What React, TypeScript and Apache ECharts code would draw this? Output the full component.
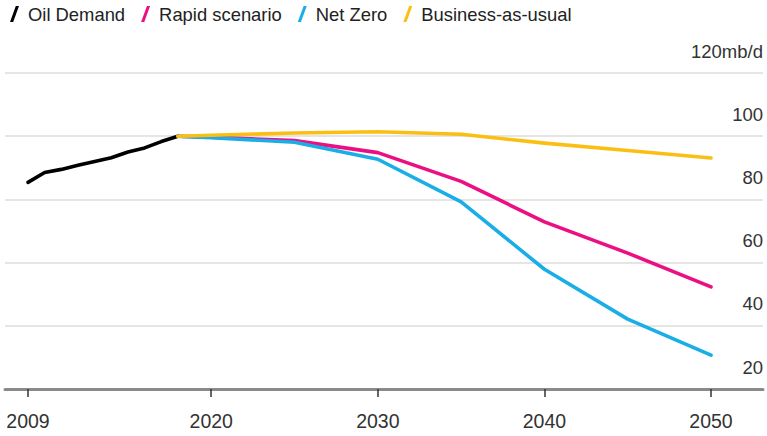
import React, { useEffect, useRef } from "react";
import * as echarts from "echarts";

const oilYears = [2009, 2010, 2011, 2012, 2013, 2014, 2015, 2016, 2017, 2018];
const oilDemand = [85.4, 88.5, 89.5, 90.8, 92.0, 93.2, 95.0, 96.3, 98.3, 100.0];

const projYears = [2018, 2020, 2025, 2030, 2035, 2040, 2045, 2050];
const rapid = [100.0, 99.7, 98.6, 94.8, 85.7, 72.9, 63.0, 52.3];
const netZero = [100.0, 99.5, 98.1, 92.7, 79.2, 57.9, 42.1, 30.7];
const bau = [100.0, 100.3, 101.0, 101.4, 100.6, 97.8, 95.5, 93.1];

const xTickYears = [2009, 2020, 2030, 2040, 2050];
const yTicks = [20, 40, 60, 80, 100, 120];

const FONT = "'Liberation Sans', Arial, sans-serif";
const SLASH = "path://M0,15 L5.5,0 L8.5,0 L3,15 Z";

const pair = (xs: number[], ys: number[]) => xs.map((x, i) => [x, ys[i]]);

export default function App() {
  const ref = useRef<HTMLDivElement>(null);
  useEffect(() => {
    if (!ref.current) return;
    const chart = echarts.init(ref.current, null, { renderer: "svg" });
    const mk = (name: string, color: string, data: number[][]) => ({
      name,
      type: "line",
      data,
      showSymbol: false,
      symbol: "none",
      lineStyle: { color, width: 3.6, cap: "round", join: "round" },
      itemStyle: { color },
    });
    chart.setOption({
      animation: false,
      legend: {
        left: 5,
        top: 0,
        itemWidth: 9,
        itemHeight: 16,
        itemGap: 16,
        icon: SLASH,
        textStyle: { fontFamily: FONT, fontSize: 18.4, color: "#222", padding: [0, 0, 0, 4] },
        data: ["Oil Demand", "Rapid scenario", "Net Zero", "Business-as-usual"],
      },
      grid: { left: 5, right: 4, top: 73, bottom: 47, containLabel: false },
      xAxis: {
        type: "value",
        min: 2007.62,
        max: 2053.12,
        splitLine: { show: false },
        axisLine: { show: true, lineStyle: { color: "#8a8a8a", width: 3 } },
        axisTick: {
          show: true,
          customValues: xTickYears,
          length: 8,
          lineStyle: { color: "#333", width: 1.5 },
        },
        axisLabel: {
          customValues: xTickYears,
          formatter: (v: number) => String(v),
          fontFamily: FONT,
          fontSize: 19.5,
          color: "#333",
          margin: 22,
        },
      },
      yAxis: {
        type: "value",
        position: "right",
        min: 20,
        max: 120,
        interval: 20,
        axisLine: { show: false },
        axisTick: { show: false },
        splitLine: { show: true, lineStyle: { color: "#dcdcdc", width: 1.5 } },
        axisLabel: {
          fontFamily: FONT,
          fontSize: 18.5,
          color: "#333",
          align: "right",
          verticalAlign: "bottom",
          lineHeight: 18,
          padding: [0, 0, 13, 0],
          margin: 0,
          customValues: yTicks,
          formatter: (v: number) => (v === 120 ? "120mb/d" : String(v)),
        },
      },
      series: [
        mk("Oil Demand", "#000000", pair(oilYears, oilDemand)),
        mk("Rapid scenario", "#ec0f84", pair(projYears, rapid)),
        mk("Net Zero", "#1aaee6", pair(projYears, netZero)),
        mk("Business-as-usual", "#fbbf14", pair(projYears, bau)),
      ],
    });
    return () => chart.dispose();
  }, []);
  return (
    <div
      ref={ref}
      style={{ position: "fixed", left: 0, top: 0, width: 767, height: 436, background: "#fff" }}
    />
  );
}
